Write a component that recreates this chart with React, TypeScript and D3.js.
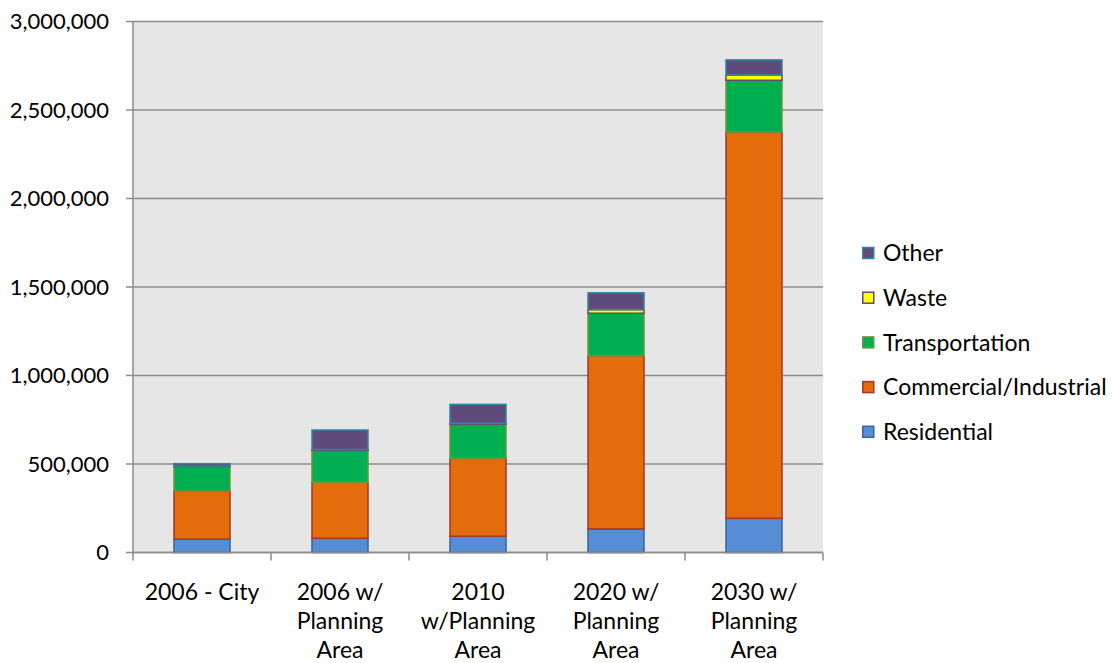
import React from "react";
import * as d3 from "d3";

// Category labels, one entry per bar, split into display lines
const categories = ["2006 - City", "2006 w/ Planning Area", "2010 w/Planning Area", "2020 w/ Planning Area", "2030 w/ Planning Area"];
const categoryLines = [
  ["2006 - City"],
  ["2006 w/", "Planning", "Area"],
  ["2010", "w/Planning", "Area"],
  ["2020 w/", "Planning", "Area"],
  ["2030 w/", "Planning", "Area"],
];

// Emissions by sector (stack order bottom to top)
const residential = [75000, 80000, 92000, 133000, 193000];
const commercial = [272000, 317000, 440000, 979000, 2183000];
const transportation = [138000, 180000, 193000, 240000, 292000];
const waste = [3000, 5000, 5000, 20000, 30000];
const other = [14000, 110000, 107000, 95000, 85000];

const seriesNames = ["Residential", "Commercial/Industrial", "Transportation", "Waste", "Other"];
const seriesFill = ["#558ed5", "#e46c0a", "#00b050", "#ffff00", "#604a7b"];
const seriesStroke = ["#3b6596", "#a0392c", "#77933c", "#604a7b", "#31859c"];

const yTicks = [0, 500000, 1000000, 1500000, 2000000, 2500000, 3000000];

const W = 1113;
const H = 663;
const plot = { left: 133, right: 823, top: 21.5, bottom: 552.5 };
const FONT = "Lato, 'Open Sans', sans-serif";

export default function App() {
  const rows = categories.map((c, i) => ({
    category: c,
    Residential: residential[i],
    "Commercial/Industrial": commercial[i],
    Transportation: transportation[i],
    Waste: waste[i],
    Other: other[i],
  }));

  const stacked = d3.stack<any>().keys(seriesNames)(rows);

  const x = d3
    .scaleBand<string>()
    .domain(categories)
    .range([plot.left, plot.right])
    .paddingInner(0.594)
    .paddingOuter(0.297);

  const y = d3.scaleLinear().domain([0, 3000000]).range([plot.bottom, plot.top]);
  const fmt = d3.format(",");

  const step = x.step();
  const boundaries = d3.range(categories.length + 1).map((i) => plot.left + i * step);

  const legendOrder = [4, 3, 2, 1, 0];
  const legendX = 862;
  const legendY0 = 253;
  const legendGap = 44.7;

  return (
    <svg
      width={W}
      height={H}
      style={{ position: "absolute", left: 0, top: 0, background: "#ffffff" }}
      fontFamily={FONT}
    >
      <rect x={0} y={0} width={W} height={H} fill="#ffffff" />
      {/* plot background */}
      <rect
        x={plot.left}
        y={plot.top}
        width={plot.right - plot.left}
        height={plot.bottom - plot.top}
        fill="#e6e6e6"
      />

      {/* gridlines and y ticks */}
      {yTicks.map((t) => (
        <g key={t}>
          <line x1={plot.left - 7} x2={plot.right} y1={y(t)} y2={y(t)} stroke="#8c8c8c" strokeWidth={1.5} />
          <text x={109} y={y(t)} dy="0.36em" textAnchor="end" fontSize={22} fill="#000">
            {fmt(t)}
          </text>
        </g>
      ))}

      {/* y axis line */}
      <line x1={plot.left} x2={plot.left} y1={plot.top} y2={plot.bottom} stroke="#8c8c8c" strokeWidth={1.5} />

      {/* x category boundary ticks */}
      {boundaries.map((bx, i) => (
        <line key={i} x1={bx} x2={bx} y1={plot.bottom} y2={plot.bottom + 8} stroke="#8c8c8c" strokeWidth={1.5} />
      ))}

      {/* stacked bars */}
      {stacked.map((layer, si) => (
        <g key={layer.key}>
          {layer.map((d, i) => (
            <rect
              key={i}
              x={x(categories[i])!}
              y={y(d[1])}
              width={x.bandwidth()}
              height={Math.max(0, y(d[0]) - y(d[1]))}
              fill={seriesFill[si]}
              stroke={seriesStroke[si]}
              strokeWidth={1.5}
            />
          ))}
        </g>
      ))}

      {/* x axis line over bar bottoms */}
      <line x1={plot.left} x2={plot.right} y1={plot.bottom} y2={plot.bottom} stroke="#8c8c8c" strokeWidth={1.5} />

      {/* category labels */}
      {categoryLines.map((lines, i) => (
        <text key={i} textAnchor="middle" fontSize={23} fill="#000">
          {lines.map((ln, j) => (
            <tspan key={j} x={x(categories[i])! + x.bandwidth() / 2} y={600 + j * 29}>
              {ln}
            </tspan>
          ))}
        </text>
      ))}

      {/* legend */}
      {legendOrder.map((si, k) => {
        const cy = legendY0 + k * legendGap;
        return (
          <g key={si}>
            <rect
              x={legendX + 0.75}
              y={cy - 5.5}
              width={11}
              height={11}
              fill={seriesFill[si]}
              stroke={seriesStroke[si]}
              strokeWidth={1.5}
            />
            <text x={883} y={cy} dy="0.36em" fontSize={23} fill="#000">
              {seriesNames[si]}
            </text>
          </g>
        );
      })}
    </svg>
  );
}
